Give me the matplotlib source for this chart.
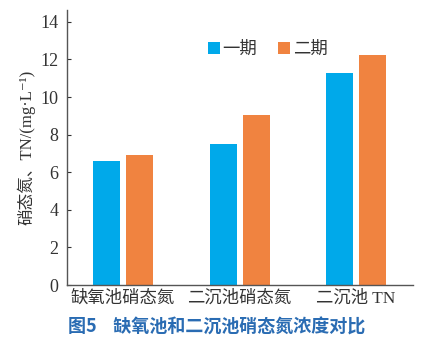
import numpy as np
import matplotlib
matplotlib.use('Agg')
from matplotlib import pyplot as plt

plt.rcParams['font.family'] = ['Liberation Serif', 'Noto Sans CJK SC', 'DejaVu Sans']

# Data
categories = ['缺氧池硝态氮', '二沉池硝态氮', '二沉池 TN']
phase1 = [6.62, 7.51, 11.28]
phase2 = [6.92, 9.05, 12.26]
series_names = ['一期', '二期']
yticks = [0, 2, 4, 6, 8, 10, 12, 14]

fig = plt.figure(figsize=(4.43, 3.40), dpi=100)
ax = fig.add_axes([67/443, 1-285/340, (413-67)/443, (285-10)/340])

x = np.arange(len(categories))
w = 0.232
ax.bar(x - 0.14, phase1, width=w, color='#00a9ea', label=series_names[0])
ax.bar(x + 0.145, phase2, width=w, color='#f08340', label=series_names[1])

ax.set_xlim(-0.48, 2.49)
ax.set_ylim(0, 14.63)
ax.set_yticks(yticks)
ax.set_xticks(x)
ax.set_xticklabels(categories, fontsize=12.5, color='#333333')
ax.tick_params(axis='y', direction='in', length=3, labelsize=13, colors='#333333', pad=6)
ax.tick_params(axis='x', length=0, pad=4)
for s in ['top', 'right']:
    ax.spines[s].set_visible(False)
for s in ['left', 'bottom']:
    ax.spines[s].set_color('#555555')
    ax.spines[s].set_linewidth(1.0)

ax.set_ylabel('硝态氮、TN/(mg·L⁻¹)', fontsize=12, color='#333333', labelpad=4,
              family=['Liberation Serif', 'Noto Sans CJK SC', 'DejaVu Sans'])

ax.legend(loc='upper center', bbox_to_anchor=(0.58, 0.94), ncol=2, frameon=False,
          fontsize=12.5, handlelength=0.7, handleheight=0.7, handletextpad=0.15,
          columnspacing=1.2, labelcolor='#333333')

fig.text(68/443, 1-327/340, '图5    缺氧池和二沉池硝态氮浓度对比', fontsize=13,
         fontweight='bold', color='#2a6cb3', family=['Noto Sans CJK SC', 'DejaVu Sans'],
         va='center', ha='left')

plt.savefig('out.png', dpi=100)
